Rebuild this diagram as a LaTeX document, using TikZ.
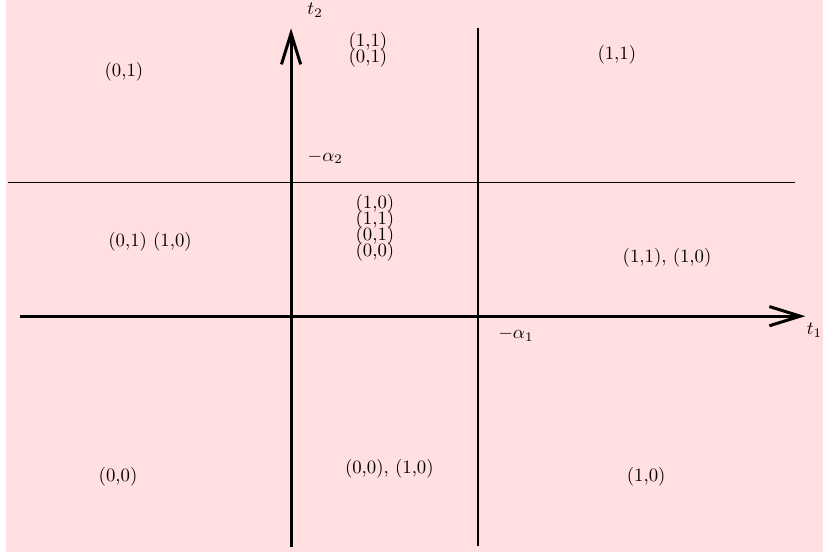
\documentclass[tikz,border=0pt]{standalone}
\usetikzlibrary{arrows.meta}

\definecolor{regionbg}{RGB}{255,223,223}

\begin{document}
\begin{tikzpicture}[>={Straight Barb[length=5.8mm,width=3.6mm]},
  axis/.style={line width=1.6pt},
  split/.style={line width=0.55pt},
  lab/.style={inner sep=1pt, align=center}]

\useasboundingbox (-5.45,-4.42) rectangle (9.96,5.92);
\fill[regionbg] (-5.34,-4.42) rectangle (9.96,5.92);

% axes
\coordinate (xlo) at (-5.07,0);
\coordinate (xhi) at (9.63,0);
\coordinate (ylo) at (0,-4.33);
\coordinate (yhi) at (0,5.39);
\draw[axis,->] (xlo) -- (xhi);
\draw[axis,->] (ylo) -- (yhi);
\node[inner sep=0pt] (t1) at (9.8,-0.26) {$t_1$};
\node (t2) at (0.45,5.73) {$t_2$};

% lines t_1=-alpha_1, t_2=-alpha_2
\coordinate (hlo) at (-5.3,2.5);
\coordinate (hhi) at (9.44,2.5);
\coordinate (vlo) at (3.5,-4.31);
\coordinate (vhi) at (3.5,5.39);
\draw[split] (hlo) -- (hhi);
\draw[split] (vlo) -- (vhi);
\node (a1) at (4.21,-0.34) {$-\alpha_1$};
\node (a2) at (0.64,2.98) {$-\alpha_2$};

% labels
\node[lab] (r11) at (-3.13,4.57) {(0,1)};
\node[lab] (r12) at (1.44,4.98) {(1,1)\\[-3.5pt](0,1)};
\node[lab] (r13) at (6.10,4.89) {(1,1)};
\node[lab] (r21) at (-2.64,1.39) {(0,1)\ (1,0)};
\node[lab] (r22) at (1.57,1.65) {(1,0)\\[-3.5pt](1,1)\\[-3.5pt](0,1)\\[-3.5pt](0,0)};
\node[lab] (r23) at (7.04,1.10) {(1,1), (1,0)};
\node[lab] (r31) at (-3.24,-3.0) {(0,0)};
\node[lab] (r32) at (1.84,-2.85) {(0,0), (1,0)};
\node[lab] (r33) at (6.65,-3.0) {(1,0)};

\end{tikzpicture}
\end{document}
